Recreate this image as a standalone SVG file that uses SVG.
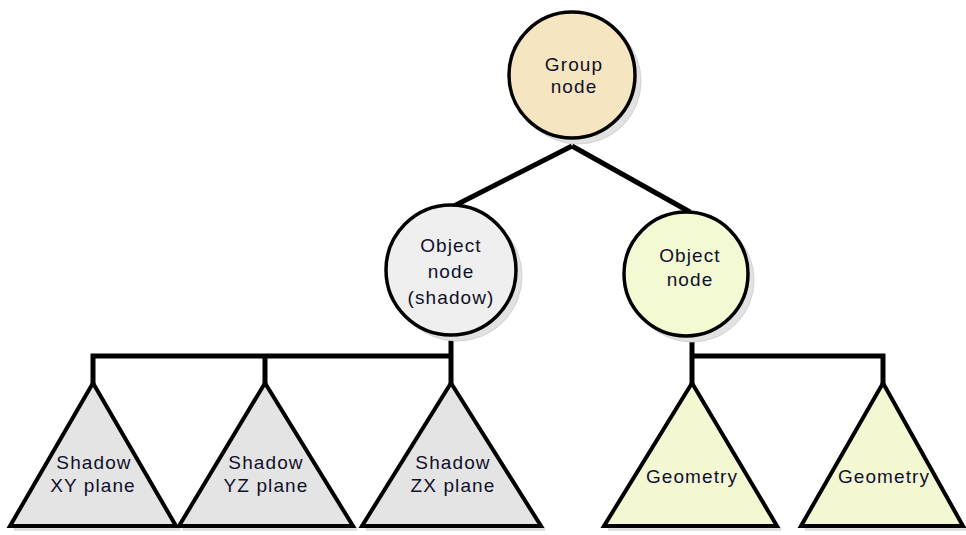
<svg xmlns="http://www.w3.org/2000/svg" width="966" height="535" viewBox="0 0 966 535">
<style>
.lbl{font-family:"Liberation Sans",Arial,sans-serif;font-size:19px;letter-spacing:1.1px;fill:#10102a;text-anchor:middle}
.node{stroke:#000;stroke-width:3.5}
.tri{stroke:#000;stroke-width:4;stroke-linejoin:miter}
.shd{fill:#e2e2e2;stroke:#d0d0d0;stroke-width:1}
.conn{fill:none;stroke:#000;stroke-width:5;stroke-linejoin:miter;stroke-linecap:butt}
</style>
<rect width="966" height="535" fill="#fff"/>
<g id="connectors">
<line class="conn" x1="572" y1="146" x2="450" y2="208"/>
<line class="conn" x1="572" y1="146" x2="690" y2="212"/>
<polyline class="conn" points="93,384 93,356 451,356"/>
<line class="conn" x1="265" y1="356" x2="265" y2="384"/>
<line class="conn" x1="451" y1="336" x2="451" y2="384"/>
<polyline class="conn" points="692,336 692,384"/>
<polyline class="conn" points="692,356 883,356 883,384"/>
</g>
<g id="group-node">
<circle class="shd" cx="578" cy="81" r="63"/>
<circle class="node" cx="572" cy="75" r="63" fill="#f5e6c1"/>
<text class="lbl" x="574" y="71">Group</text>
<text class="lbl" x="574" y="93">node</text>
</g>
<g id="object-node-shadow">
<circle class="shd" cx="457" cy="276" r="65"/>
<circle class="node" cx="451" cy="270" r="65" fill="#efefef"/>
<text class="lbl" x="451" y="252">Object</text>
<text class="lbl" x="451" y="278">node</text>
<text class="lbl" x="451" y="304">(shadow)</text>
</g>
<g id="object-node">
<circle class="shd" cx="692" cy="280" r="62"/>
<circle class="node" cx="686" cy="274" r="62" fill="#f3f9d2"/>
<text class="lbl" x="690" y="262">Object</text>
<text class="lbl" x="690" y="286">node</text>
</g>
<g id="shadow-xy">
<polygon class="shd" points="97,387 180,530 14,530"/>
<polygon class="tri" points="93,383 176,526 10,526" fill="#e4e4e4"/>
<text class="lbl" x="94" y="469">Shadow</text>
<text class="lbl" x="93" y="492">XY plane</text>
</g>
<g id="shadow-yz">
<polygon class="shd" points="269,387 357,530 183,530"/>
<polygon class="tri" points="265,383 353,526 179,526" fill="#e4e4e4"/>
<text class="lbl" x="266" y="469">Shadow</text>
<text class="lbl" x="266" y="492">YZ plane</text>
</g>
<g id="shadow-zx">
<polygon class="shd" points="455,387 545,530 366,530"/>
<polygon class="tri" points="451,383 541,526 362,526" fill="#e4e4e4"/>
<text class="lbl" x="453" y="469">Shadow</text>
<text class="lbl" x="453" y="492">ZX plane</text>
</g>
<g id="geometry-1">
<polygon class="shd" points="696,387 781,530 608,530"/>
<polygon class="tri" points="692,383 777,526 604,526" fill="#f3f8d3"/>
<text class="lbl" x="692" y="483">Geometry</text>
</g>
<g id="geometry-2">
<polygon class="shd" points="887,387 966,530 805,530"/>
<polygon class="tri" points="883,383 963,526 801,526" fill="#f3f8d3"/>
<text class="lbl" x="884" y="483">Geometry</text>
</g>
</svg>
